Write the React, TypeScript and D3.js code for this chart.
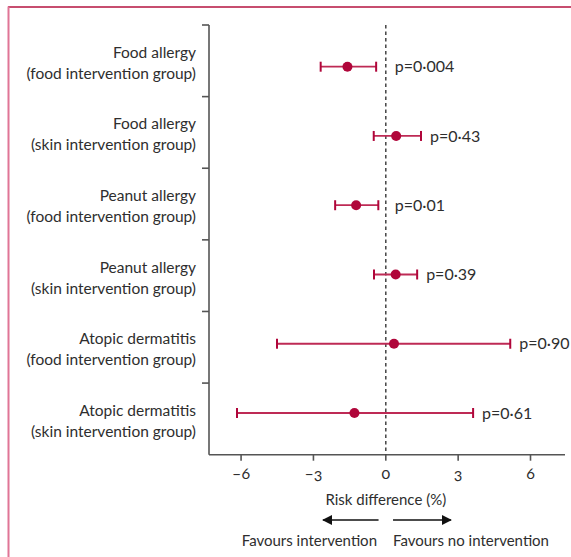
import React from 'react';
import * as d3 from 'd3';

// rows of the forest plot, top to bottom
const outcomes = ['Food allergy', 'Food allergy', 'Peanut allergy', 'Peanut allergy', 'Atopic dermatitis', 'Atopic dermatitis'];
const groups = [
  '(food intervention group)',
  '(skin intervention group)',
  '(food intervention group)',
  '(skin intervention group)',
  '(food intervention group)',
  '(skin intervention group)'
];
const estimates = [-1.59, 0.43, -1.23, 0.41, 0.34, -1.3];
const lower = [-2.7, -0.5, -2.1, -0.49, -4.51, -6.17];
const upper = [-0.4, 1.46, -0.31, 1.3, 5.16, 3.62];
const pValues = ['p=0·004', 'p=0·43', 'p=0·01', 'p=0·39', 'p=0·90', 'p=0·61'];
const xTicks = [-6, -3, 0, 3, 6];

const W = 571;
const H = 557;
const left = 209;
const right = 565;
const top = 25;
const bottom = 454.7;

const crimson = '#b0063a';
const ink = '#2e2e2e';
const axisColor = '#555555';
const font = 'Lato, "Open Sans", sans-serif';

export default function App() {
  const rows = d3.range(outcomes.length);

  const x = d3.scaleLinear().domain([-7.33, 7.43]).range([left, right]);
  const yBand = d3.scaleBand<number>().domain(rows).range([top, bottom]).paddingInner(0).paddingOuter(0);
  const yPoint = d3.scalePoint<number>().domain(rows).range([66.7, 413]);

  const fmt = (v: number) => (v < 0 ? '–' + Math.abs(v) : String(v));

  return (
    <svg
      width={W}
      height={H}
      style={{ position: 'absolute', left: 0, top: 0, display: 'block', background: '#fff' }}
      fontFamily={font}
    >
      {/* page frame */}
      <line x1={8} x2={W} y1={7} y2={7} stroke="#b5123f" strokeWidth={1.5} />
      <line x1={8.5} x2={8.5} y1={6.5} y2={H} stroke="#e07596" strokeWidth={2} />

      {/* y axis with band ticks */}
      <line x1={left} x2={left} y1={top} y2={bottom} stroke={axisColor} strokeWidth={1.6} />
      {rows.map((i) => (
        <line key={'yt' + i} x1={left - 7} x2={left} y1={yBand(i)!} y2={yBand(i)!} stroke={axisColor} strokeWidth={1.6} />
      ))}

      {/* row labels */}
      {rows.map((i) => {
        const cy = yBand(i)! + yBand.bandwidth() / 2;
        return (
          <g key={'lab' + i} fill={ink} fontSize={15.5} textAnchor="end">
            <text x={196} y={cy - 8.5} dy="0.35em">{outcomes[i]}</text>
            <text x={196} y={cy + 12.5} dy="0.35em">{groups[i]}</text>
          </g>
        );
      })}

      {/* x axis */}
      <line x1={left} x2={right} y1={bottom} y2={bottom} stroke={axisColor} strokeWidth={1.6} />
      {xTicks.map((t) => (
        <g key={'xt' + t}>
          <line x1={x(t)} x2={x(t)} y1={bottom} y2={bottom + 6} stroke={axisColor} strokeWidth={1.6} />
          <text
            x={x(t)}
            y={bottom + 13}
            dy="0.71em"
            textAnchor="middle"
            fontSize={16}
            fill={ink}
            style={{ fontVariantNumeric: 'oldstyle-nums' }}
          >
            {fmt(t)}
          </text>
        </g>
      ))}

      {/* null line */}
      <line x1={x(0)} x2={x(0)} y1={top} y2={bottom} stroke="#444" strokeWidth={1.5} strokeDasharray="3.5,3" />

      {/* estimates with CIs */}
      {rows.map((i) => {
        const cy = yPoint(i)!;
        return (
          <g key={'pt' + i}>
            <line x1={x(lower[i])} x2={x(upper[i])} y1={cy} y2={cy} stroke="#be2a55" strokeWidth={1.8} />
            <line x1={x(lower[i])} x2={x(lower[i])} y1={cy - 5} y2={cy + 5} stroke={crimson} strokeWidth={2} />
            <line x1={x(upper[i])} x2={x(upper[i])} y1={cy - 5} y2={cy + 5} stroke={crimson} strokeWidth={2} />
            <circle cx={x(estimates[i])} cy={cy} r={5} fill={crimson} />
            <text x={x(Math.max(upper[i], 0)) + 9} y={cy} dy="0.35em" fontSize={16} fill={ink}>
              {pValues[i]}
            </text>
          </g>
        );
      })}

      {/* axis title and direction arrows */}
      <text x={x(0)} y={500} dy="0.35em" textAnchor="middle" fontSize={15} fill={ink}>
        Risk difference (%)
      </text>
      <defs>
        <marker id="ah" viewBox="0 0 10 10" refX={9} refY={5} markerWidth={10} markerHeight={10} markerUnits="userSpaceOnUse" orient="auto">
          <path d="M0,0 L10,5 L0,10 Z" fill="#111" />
        </marker>
      </defs>
      <line x1={x(-0.3)} x2={x(-2.6)} y1={520} y2={520} stroke="#111" strokeWidth={1.5} markerEnd="url(#ah)" />
      <line x1={x(0.3)} x2={x(2.7)} y1={520} y2={520} stroke="#111" strokeWidth={1.5} markerEnd="url(#ah)" />
      <text x={377} y={541} dy="0.35em" textAnchor="end" fontSize={15} fill={ink}>
        Favours intervention
      </text>
      <text x={393} y={541} dy="0.35em" textAnchor="start" fontSize={15} fill={ink}>
        Favours no intervention
      </text>
    </svg>
  );
}
